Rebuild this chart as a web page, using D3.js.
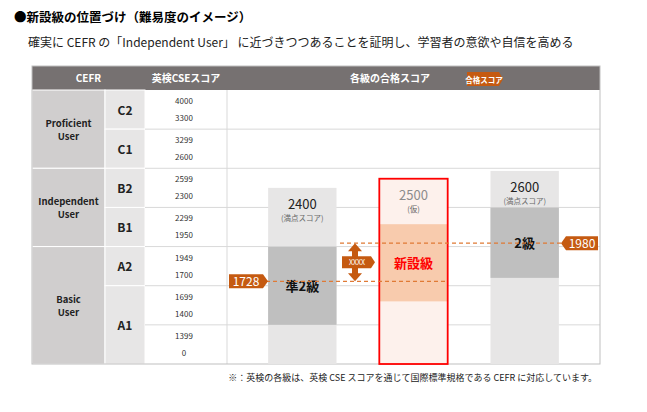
<!DOCTYPE html>
<html lang="ja">
<head>
<meta charset="utf-8">
<script src="https://d3js.org/d3.v7.min.js"></script>
<style>body{margin:0;background:#fff;font-family:"Noto Sans CJK JP","Noto Sans",sans-serif}</style>
</head>
<body>
<svg width="647" height="412"></svg>
<script>
// band limits of the CSE score (piecewise scale, one table row per band)
var bandScores = [0, 1400, 1700, 1950, 2300, 2600, 3300, 4000];
var tickPairs = [["4000","3300"],["3299","2600"],["2599","2300"],["2299","1950"],["1949","1700"],["1699","1400"],["1399","0"]];
var levels = [{name:"C2", rows:[0,1]},{name:"C1", rows:[1,2]},{name:"B2", rows:[2,3]},{name:"B1", rows:[3,4]},{name:"A2", rows:[4,5]},{name:"A1", rows:[5,7]}];
var groups = [{name:["Proficient","User"], rows:[0,2]},{name:["Independent","User"], rows:[2,4]},{name:["Basic","User"], rows:[4,7]}];
// grades: full-score top, pass band [lo, hi]
var grades = [
  {name:"準2級", top:2450, lo:1400, hi:1950, full:"2400", note:"(満点スコア)"},
  {name:"新設級", top:2520, lo:1580, hi:2150, full:"2500", note:"(仮)", isNew:true},
  {name:"2級", top:2580, lo:1750, hi:2300, full:"2600", note:"(満点スコア)"}
];
var passLines = [{v:1728, label:"1728"}, {v:1980, label:"1980"}];

var svg = d3.select("svg");
var leftX = 32, rightX = 600, topY = 66, headH = 24, bottomY = 364;
var rowH = (bottomY - topY - headH) / 7;
var y = d3.scaleLinear().domain(bandScores).range(bandScores.map(function(d,i){ return bottomY - i*rowH; }));
var rowY = function(i){ return topY + headH + i*rowH; };
var cx = {g0:32, g1:105, l1:145, s1:227};
var x = d3.scaleBand().domain(grades.map(function(d){return d.name;})).range([227, 600]).paddingInner(0.385).paddingOuter(0.37);

svg.append("text").attr("x",14).attr("y",22).attr("font-size",12.5).attr("font-weight","bold").text("●新設級の位置づけ（難易度のイメージ）");
svg.append("text").attr("x",28).attr("y",47).attr("font-size",12).attr("fill","#222").text("確実に CEFR の「Independent User」 に近づきつつあることを証明し、学習者の意欲や自信を高める");

// header
svg.append("rect").attr("x",leftX).attr("y",topY).attr("width",rightX-leftX).attr("height",headH).attr("fill","#767171");
[["CEFR",(cx.g0+cx.l1)/2],["英検CSEスコア",(cx.l1+cx.s1)/2],["各級の合格スコア",390]].forEach(function(h){
  svg.append("text").attr("x",h[1]).attr("y",topY+16).attr("text-anchor","middle").attr("fill","#fff").attr("font-size",10).attr("font-weight","bold").text(h[0]);
});
svg.append("path").attr("d","M467,72h32l4,7l-4,7h-32z").attr("fill","#c55a11");
svg.append("text").attr("x",484).attr("y",83).attr("text-anchor","middle").attr("fill","#fff").attr("font-size",7.5).attr("font-weight","bold").text("合格スコア");

// body cells
groups.forEach(function(g){
  var y0 = rowY(g.rows[0]), y1 = rowY(g.rows[1]);
  svg.append("rect").attr("x",cx.g0).attr("y",y0).attr("width",cx.g1-cx.g0).attr("height",y1-y0).attr("fill","#d0cece").attr("stroke","#fff");
  svg.append("text").attr("x",(cx.g0+cx.g1)/2).attr("y",(y0+y1)/2-2).attr("text-anchor","middle").attr("font-size",9.5).attr("font-weight","bold").attr("fill","#222")
    .selectAll("tspan").data(g.name).join("tspan").attr("x",(cx.g0+cx.g1)/2).attr("dy",function(d,i){return i?13:0;}).text(function(d){return d;});
});
levels.forEach(function(l){
  var y0 = rowY(l.rows[0]), y1 = rowY(l.rows[1]);
  svg.append("rect").attr("x",cx.g1).attr("y",y0).attr("width",cx.l1-cx.g1).attr("height",y1-y0).attr("fill","#e7e6e6").attr("stroke","#fff");
  svg.append("text").attr("x",(cx.g1+cx.l1)/2).attr("y",(y0+y1)/2+5).attr("text-anchor","middle").attr("font-size",12).attr("font-weight","bold").attr("fill","#222").text(l.name);
});
tickPairs.forEach(function(p,i){
  var y0 = rowY(i);
  svg.append("text").attr("x",184).attr("y",y0+14).attr("font-size",8).attr("fill","#333").attr("text-anchor","middle").text(p[0]);
  svg.append("text").attr("x",184).attr("y",y0+31).attr("font-size",8).attr("fill","#333").attr("text-anchor","middle").text(p[1]);
});
// grid
d3.range(1,7).forEach(function(i){
  svg.append("line").attr("x1",cx.l1).attr("x2",rightX).attr("y1",rowY(i)).attr("y2",rowY(i)).attr("stroke","#d9d9d9");
});
svg.append("line").attr("x1",cx.s1).attr("x2",cx.s1).attr("y1",topY+headH).attr("y2",bottomY).attr("stroke","#d9d9d9");
svg.append("rect").attr("x",leftX).attr("y",topY).attr("width",rightX-leftX).attr("height",bottomY-topY).attr("fill","none").attr("stroke","#bfbfbf");

// bars
grades.forEach(function(g){
  var bx = x(g.name), bw = x.bandwidth();
  svg.append("rect").attr("x",bx).attr("y",y(g.top)).attr("width",bw).attr("height",bottomY-y(g.top)).attr("fill",g.isNew?"#fdf1ec":"#e7e6e6");
  svg.append("rect").attr("x",bx).attr("y",y(g.hi)).attr("width",bw).attr("height",y(g.lo)-y(g.hi)).attr("fill",g.isNew?"#f8cbad":"#bfbfbf");
  if(g.isNew) svg.append("rect").attr("x",bx).attr("y",y(g.top)).attr("width",bw).attr("height",bottomY-y(g.top)).attr("fill","none").attr("stroke","#ff0000").attr("stroke-width",1.8);
  svg.append("text").attr("x",bx+bw/2).attr("y",y(g.top)+21).attr("text-anchor","middle").attr("font-size",13).attr("fill",g.isNew?"#8c8c8c":"#222").text(g.full);
  svg.append("text").attr("x",bx+bw/2).attr("y",y(g.top)+33).attr("text-anchor","middle").attr("font-size",7.5).attr("fill","#666").text(g.note);
  svg.append("text").attr("x",bx+bw/2).attr("y",(y(g.hi)+y(g.lo))/2+5).attr("text-anchor","middle").attr("font-size",13).attr("font-weight","bold").attr("fill",g.isNew?"#ff0000":"#111").text(g.name);
});

// pass lines
var orange = "#c55a11";
var l0 = y(passLines[0].v), l1 = y(passLines[1].v);
svg.append("line").attr("x1",266).attr("x2",x("新設級")+x.bandwidth()).attr("y1",l0).attr("y2",l0).attr("stroke","#e07a35").attr("stroke-dasharray","4,3").attr("stroke-width",1.2);
svg.append("line").attr("x1",340).attr("x2",562).attr("y1",l1).attr("y2",l1).attr("stroke","#e07a35").attr("stroke-dasharray","4,3").attr("stroke-width",1.2);
svg.append("path").attr("d","M229,"+(l0-7)+"h34l5,7l-5,7h-34z").attr("fill",orange);
svg.append("text").attr("x",246).attr("y",l0+4.5).attr("text-anchor","middle").attr("fill","#fff").attr("font-size",12).text(passLines[0].label);
svg.append("path").attr("d","M598,"+(l1-7)+"h-32l-5,7l5,7h32z").attr("fill",orange);
svg.append("text").attr("x",582).attr("y",l1+4.5).attr("text-anchor","middle").attr("fill","#fff").attr("font-size",12).text(passLines[1].label);
// arrow between lines
var ax = 355;
svg.append("path").attr("d","M"+ax+","+(l1)+"l-7,8h4v"+(l0-l1-16)+"h-4l7,8l7,-8h-4v"+(-(l0-l1-16))+"h4z").attr("fill",orange);
var my = (l0+l1)/2;
svg.append("path").attr("d","M342,"+(my-6)+"h29l4,6l-4,6h-29z").attr("fill",orange);
svg.append("text").attr("x",357).attr("y",my+3).attr("text-anchor","middle").attr("fill","#fff").attr("font-size",7).text("XXXX");

svg.append("text").attr("x",597).attr("y",381).attr("text-anchor","end").attr("font-size",9).attr("fill","#222").text("※：英検の各級は、英検 CSE スコアを通じて国際標準規格である CEFR に対応しています。");
</script>
</body>
</html>
